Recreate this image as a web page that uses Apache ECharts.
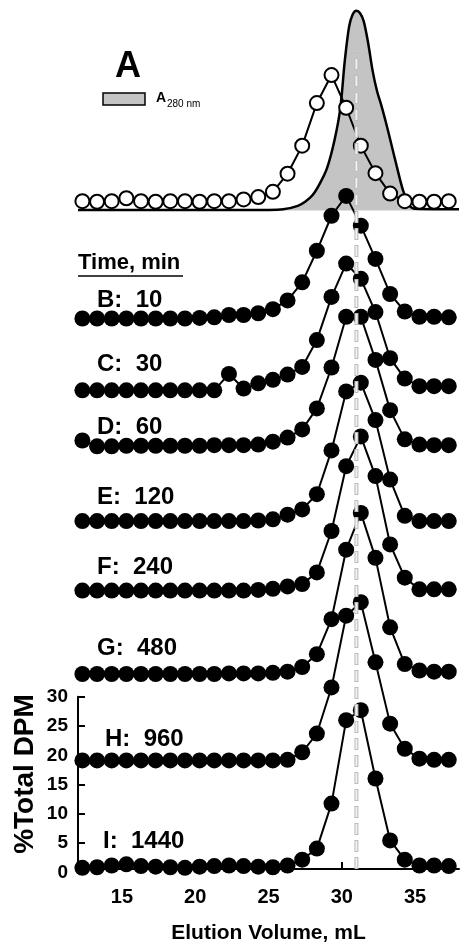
<!DOCTYPE html>
<html><head><meta charset="utf-8">
<script src="https://cdn.jsdelivr.net/npm/echarts@6/dist/echarts.min.js"></script>
<style>html,body{margin:0;padding:0;background:#fff}#c{width:462px;height:949px}</style>
</head><body><div id="c"></div>
<script>
// ---- data ----
const volumes = [12.3,13.3,14.3,15.3,16.3,17.3,18.3,19.3,20.3,21.3,22.3,23.3,24.3,25.3,26.3,27.3,28.3,29.3,30.3,31.3,32.3,33.3,34.3,35.3,36.3,37.3];
// vertical offsets of each stacked profile
const offsetA = 114.2, offsetB = 94.0, offsetC = 81.8, offsetD = 72.2, offsetE = 59.2,
      offsetF = 47.5, offsetG = 33.2, offsetH = 18.3, offsetI = 0;
// %Total DPM profiles
const traceA = [0.2,0.1,0.2,0.7,0.2,0.1,0.2,0.2,0.1,0.2,0.2,0.5,0.9,1.8,4.9,9.7,17.0,21.8,16.2,9.7,5.0,1.5,0.2,0.1,0.1,0.2];
const traceB = [0.3,0.3,0.3,0.3,0.3,0.3,0.3,0.3,0.4,0.5,0.9,0.9,1.2,1.9,3.4,6.5,11.9,17.9,21.3,16.2,10.5,4.5,1.5,0.6,0.6,0.5];
const traceC = [0.2,0.2,0.2,0.2,0.2,0.2,0.2,0.2,0.2,0.2,3.0,0.5,1.4,2.0,2.9,4.2,8.8,16.2,21.9,19.3,13.6,5.7,2.2,0.9,0.9,0.9];
const traceD = [1.2,0.2,0.2,0.3,0.3,0.3,0.3,0.3,0.3,0.4,0.4,0.4,0.5,1.0,1.7,3.1,6.7,13.7,22.4,22.4,15.0,6.4,1.4,0.5,0.4,0.4];
const traceE = [0.4,0.4,0.4,0.4,0.4,0.4,0.4,0.4,0.4,0.4,0.4,0.4,0.5,0.7,1.5,2.4,5.0,12.5,22.6,24.1,17.7,7.5,1.3,0.4,0.4,0.4];
const traceF = [0.2,0.2,0.2,0.2,0.2,0.2,0.2,0.2,0.2,0.2,0.2,0.2,0.3,0.5,0.9,1.3,3.3,10.4,21.5,26.6,19.8,8.1,2.4,0.4,0.4,0.4];
const traceG = [0.2,0.2,0.2,0.2,0.2,0.2,0.2,0.2,0.2,0.2,0.3,0.3,0.3,0.4,0.6,1.4,3.6,9.6,21.5,27.8,20.1,8.2,1.9,0.8,0.6,0.6];
const traceH = [0.3,0.3,0.3,0.3,0.3,0.3,0.3,0.3,0.3,0.3,0.3,0.3,0.3,0.3,0.4,1.7,4.9,12.8,25.1,27.4,17.1,6.6,2.3,0.6,0.4,0.4];
const traceI = [0.2,0.3,0.6,0.8,0.5,0.4,0.3,0.2,0.4,0.5,0.6,0.5,0.4,0.3,0.6,1.6,3.5,11.2,25.5,27.2,15.5,4.9,1.6,0.6,0.6,0.5];
// A280 absorbance trace (scaled)
const a280Base = 112.8;
const a280Volumes = [12.0,25.0,26.0,27.0,27.5,28.0,28.5,29.0,29.5,29.9,30.2,30.5,30.75,31.0,31.25,31.5,31.8,32.1,32.4,32.7,33.0,33.3,33.75,34.2,34.65,35.0,38.0];
const a280Values  = [0.1,0.1,0.2,0.8,1.5,2.6,4.6,7.3,12.0,17.5,25.5,31.5,33.6,34.2,33.8,32.4,28.7,24.0,20.5,18.0,15.2,12.2,7.6,3.3,0.8,0.3,0.2];
// reference line
const refVolume = 31.0;
const refRange = [0, 140];
// axis ticks
const xTicks = [15,20,25,30,35];
const timeLabels = ['B:  10','C:  30','D:  60','E:  120','F:  240','G:  480','H:  960','I:  1440'];

// ---- layout ----
const W = 462, Hh = 949;
const GL = 78, GR = 3, GT = 5, GB = 76.5, YMAX = 148;
const plotH = Hh - GT - GB;
const axisTop = Hh - GB - 30 * plotH / YMAX;
const FONT = 'Arial, "Liberation Sans", sans-serif';

function pts(trace, off) { return volumes.map((v, i) => [v, +(trace[i] + off).toFixed(2)]); }
function filled(name, trace, off) {
  return {
    name, type: 'line', xAxisIndex: 0, yAxisIndex: 0, data: pts(trace, off),
    symbol: 'circle', symbolSize: 16, itemStyle: { color: '#000' },
    lineStyle: { color: '#000', width: 2 }, z: 4, silent: true
  };
}

const chart = echarts.init(document.getElementById('c'));
const labelX = [97,97,97,97,97,97,105,103];
const labelY = [300,364,427,497,567,648,739,841];

const graphic = [
  { type: 'text', x: 115, y: 67, style: { text: 'A', fontSize: 36, fontWeight: 'bold', fontFamily: FONT, fill: '#000', align: 'left', verticalAlign: 'middle' } },
  { type: 'rect', shape: { x: 103, y: 93, width: 42, height: 12 }, style: { fill: '#c4c4c4', stroke: '#000', lineWidth: 1.5 } },
  { type: 'text', x: 156, y: 98, style: { text: 'A', fontSize: 14, fontWeight: 'bold', fontFamily: FONT, fill: '#000', align: 'left', verticalAlign: 'middle' } },
  { type: 'text', x: 167, y: 104, style: { text: '280 nm', fontSize: 10, fontFamily: FONT, fill: '#000', align: 'left', verticalAlign: 'middle' } },
  { type: 'text', x: 78, y: 263, style: { text: 'Time, min', fontSize: 22, fontWeight: 'bold', fontFamily: FONT, fill: '#000', align: 'left', verticalAlign: 'middle' } },
  { type: 'line', shape: { x1: 78, y1: 276, x2: 183, y2: 276 }, style: { stroke: '#000', lineWidth: 1.5 } },
  { type: 'text', x: 25, y: 774, rotation: Math.PI / 2, style: { text: '%Total DPM', fontSize: 28, fontWeight: 'bold', fontFamily: FONT, fill: '#000', align: 'center', verticalAlign: 'middle' } }
];
timeLabels.forEach((t, i) => graphic.push({
  type: 'text', x: labelX[i], y: labelY[i],
  style: { text: t, fontSize: 24, fontWeight: 'bold', fontFamily: FONT, fill: '#000', align: 'left', verticalAlign: 'middle' }
}));

const option = {
  animation: false,
  backgroundColor: '#fff',
  grid: [
    { left: GL, right: GR, top: GT, bottom: GB },
    { left: GL, right: GR, top: axisTop, bottom: GB }
  ],
  xAxis: [
    { gridIndex: 0, type: 'value', min: 12, max: 38,
      axisLine: { show: true, lineStyle: { color: '#000', width: 2 } },
      axisTick: { show: true, inside: true, length: 7, customValues: xTicks, lineStyle: { color: '#000', width: 2 } },
      axisLabel: { show: true, customValues: xTicks, margin: 18, color: '#000', fontSize: 20, fontWeight: 'bold', fontFamily: FONT },
      splitLine: { show: false },
      name: 'Elution Volume, mL', nameLocation: 'middle', nameGap: 54,
      nameTextStyle: { color: '#000', fontSize: 21, fontWeight: 'bold', fontFamily: FONT } },
    { gridIndex: 1, type: 'value', min: 12, max: 38, show: false }
  ],
  yAxis: [
    { gridIndex: 0, type: 'value', min: 0, max: YMAX, show: false },
    { gridIndex: 1, type: 'value', min: 0, max: 30, interval: 5,
      axisLine: { show: true, lineStyle: { color: '#000', width: 2 } },
      axisTick: { show: true, inside: true, length: 7, lineStyle: { color: '#000', width: 2 } },
      axisLabel: { margin: 10, color: '#000', fontSize: 19, fontWeight: 'bold', fontFamily: FONT },
      splitLine: { show: false } }
  ],
  graphic,
  series: [
    { name: 'A280', type: 'line', xAxisIndex: 0, yAxisIndex: 0,
      data: a280Volumes.map((v, i) => [v, +(a280Base + a280Values[i]).toFixed(2)]),
      smooth: 0.3, symbol: 'none', lineStyle: { color: '#000', width: 2.5 },
      areaStyle: { color: '#c4c4c4', opacity: 1, origin: a280Base }, z: 1, silent: true },
    { name: 'A', type: 'line', xAxisIndex: 0, yAxisIndex: 0, data: pts(traceA, offsetA),
      symbol: 'circle', symbolSize: 14, itemStyle: { color: '#fff', borderColor: '#000', borderWidth: 2 },
      lineStyle: { color: '#000', width: 2 }, z: 3, silent: true },
    filled('B', traceB, offsetB),
    filled('C', traceC, offsetC),
    filled('D', traceD, offsetD),
    filled('E', traceE, offsetE),
    filled('F', traceF, offsetF),
    filled('G', traceG, offsetG),
    filled('H', traceH, offsetH),
    filled('I', traceI, offsetI),
    { name: 'ref-outer', type: 'line', xAxisIndex: 0, yAxisIndex: 0,
      data: refRange.map(y => [refVolume, y]), symbol: 'none',
      lineStyle: { color: '#bdbdbd', width: 4, type: [12, 5] }, z: 10, silent: true },
    { name: 'ref-inner', type: 'line', xAxisIndex: 0, yAxisIndex: 0,
      data: refRange.map(y => [refVolume, y]), symbol: 'none',
      lineStyle: { color: '#f2f2f2', width: 1.8, type: [10, 7], dashOffset: -1 }, z: 11, silent: true }
  ]
};
chart.setOption(option);
</script>
</body></html>
